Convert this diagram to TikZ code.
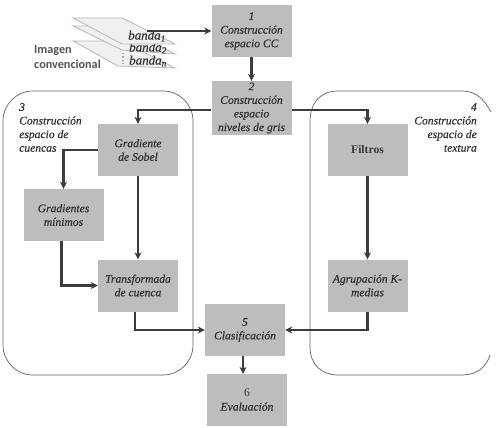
\documentclass[tikz,border=0pt]{standalone}
\usepackage{fontspec}
\setmainfont{Liberation Serif}[ItalicFeatures={FakeBold=0.3}]
\newfontfamily\labelsans{Carlito}
\usetikzlibrary{arrows.meta}
\definecolor{boxgray}{HTML}{BDBDBD}
\definecolor{linedark}{HTML}{3C3C3C}
\definecolor{textdark}{HTML}{2E2E2E}
\tikzset{
  x=1pt,y=-1pt,
  procbox/.style={fill=boxgray,draw=none,inner sep=0pt,minimum width=80pt,minimum height=52pt,align=center,text=textdark,font=\fontsize{11.6}{13.6}\selectfont\itshape},
  conn/.style={draw=linedark,line width=2.1pt,-{Stealth[length=7pt,width=7pt]}},
  region/.style={draw=black!62,line width=0.7pt},
  plate/.style={fill=black!6,draw=black!28,line width=0.8pt},
  bandlabel/.style={text=textdark,inner sep=0pt,font=\fontsize{13}{13}\selectfont\itshape},
  regionlabel/.style={text=textdark,inner sep=0pt,font=\fontsize{11.6}{13.6}\selectfont\itshape},
}
\begin{document}
\begin{tikzpicture}
\useasboundingbox (0,0) rectangle (496,428);
% regions
\draw[region,rounded corners=30pt] (3,91) rectangle (193,375);
\draw[region] (491,112) .. controls (484,99) and (476,91) .. (462,91) -- (338,91)
  .. controls (320,91) and (310,103) .. (310,122) -- (310,347)
  .. controls (310,365) and (322,375) .. (338,375) -- (462,375)
  .. controls (476,375) and (486,368) .. (490,355);
% image plates, lowest first: each covers the label of the plate below
\draw[plate] (73,41) -- (122,41) -- (175,68) -- (118,66) -- cycle;
\node[bandlabel] (bn) at (148,61) {banda\textsubscript{n}};
\draw[black!35,line width=1.5pt,dotted] (123,53) -- (123,64);
\draw[plate] (73,26) -- (122,26) -- (175,54) -- (122,50) -- cycle;
\node[bandlabel] (b2) at (148,48) {banda\textsubscript{2}};
\draw[plate] (73,18) -- (122,18) -- (175,44) -- (122,44) -- cycle;
\node[bandlabel] (b1) at (147,36) {banda\textsubscript{1}};
\node[anchor=west,inner sep=0pt,align=left,text=black!68,font=\fontsize{12.2}{15.5}\selectfont\labelsans\bfseries] (img) at (34,57) {Imagen\\convencional};
% boxes
\node[procbox] (n1) at (251.5,31) {1\\Construcción\\espacio CC};
\node[procbox,minimum height=54pt] (n2) at (251.5,108) {2\\Construcción\\espacio\\niveles de gris};
\node[procbox] (sobel) at (138,150) {Gradiente\\de Sobel};
\node[procbox] (gmin) at (63.5,215) {Gradientes\\mínimos};
\node[procbox] (trans) at (138,285.5) {Transformada\\de cuenca};
\node[procbox] (filt) at (367.5,150) {\bfseries\upshape\color{black!78}Filtros};
\node[procbox] (agru) at (367.5,285.5) {Agrupación K-\\medias};
\node[procbox] (n5) at (245,330) {5\\Clasificación};
\node[procbox] (n6) at (247,400) {{\upshape\color{black!78}6}\\Evaluación};
% region labels
\node[regionlabel,anchor=north west,align=left] (r3) at (19,103) {3\\Construcción\\espacio de\\cuencas};
\node[regionlabel,anchor=north east,align=right] (r4) at (477,103) {4\\Construcción\\espacio de\\textura};
% connectors
\coordinate (src) at (147,31);
\draw[conn] (src) -- (n1.west |- src);
\draw[conn] (n1) -- (n2);
\draw[conn] ([yshift=-2pt]n2.west) -| (sobel.north);
\draw[conn] ([yshift=-2pt]n2.east) -| (filt.north);
\draw[conn] (sobel.west) -| (gmin.north);
\draw[conn] (sobel.south) -- (trans.north);
\draw[conn] ([xshift=-2pt]gmin.south) |- (trans.west);
\draw[conn] ([xshift=-3pt]trans.south) |- (n5.west);
\draw[conn] (filt) -- (agru);
\draw[conn] (agru.south) |- (n5.east);
\draw[conn] ([xshift=-2pt]n5.south) -- ([xshift=-4pt]n6.north);
\end{tikzpicture}
\end{document}
